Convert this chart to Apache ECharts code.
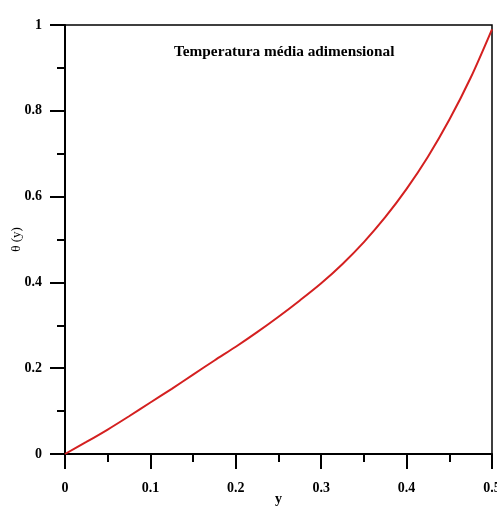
<!DOCTYPE html>
<html>
<head>
<meta charset="utf-8">
<script src="https://cdn.jsdelivr.net/npm/echarts@6/dist/echarts.min.js"></script>
<style>html,body{margin:0;padding:0;background:#fff;}#c{width:497px;height:506px;}</style>
</head>
<body>
<div id="c"></div>
<script>
const yPos = [0, 0.025, 0.05, 0.075, 0.1, 0.125, 0.15, 0.175, 0.2, 0.225, 0.25, 0.275, 0.3, 0.325, 0.35, 0.375, 0.4, 0.425, 0.45, 0.475, 0.5];
const theta = [0, 0.028, 0.057, 0.088, 0.12, 0.152, 0.185, 0.218, 0.25, 0.284, 0.32, 0.358, 0.398, 0.443, 0.494, 0.552, 0.618, 0.693, 0.779, 0.877, 0.99];
const titleText = 'Temperatura média adimensional';
const xName = 'y';
const yName = 'θ (y)';

const chart = echarts.init(document.getElementById('c'), null, {renderer: 'canvas'});
const font = 'Liberation Serif, Times New Roman, serif';
chart.setOption({
  animation: false,
  backgroundColor: '#fff',
  title: {
    text: titleText, left: 169, top: 40,
    textStyle: {fontFamily: font, fontWeight: 'bold', fontSize: 15.3, color: '#000'}
  },
  grid: {left: 65, right: 5, top: 25, bottom: 52, outerBoundsMode: 'none', containLabel: false,
         show: true, borderColor: '#000', borderWidth: 1.5, backgroundColor: 'transparent'},
  xAxis: {
    type: 'value', min: 0, max: 0.5, interval: 0.1,
    name: xName, nameLocation: 'middle', nameGap: 38, nameMoveOverlap: false,
    nameTextStyle: {fontFamily: font, fontWeight: 'bold', fontSize: 14, color: '#000'},
    axisLine: {show: true, lineStyle: {color: '#000', width: 2}},
    axisTick: {show: true, length: 15, lineStyle: {color: '#000', width: 2}},
    minorTick: {show: true, splitNumber: 2, length: 8, lineStyle: {color: '#000', width: 2}},
    axisLabel: {margin: 27, fontFamily: font, fontWeight: 'bold', fontSize: 14, color: '#000'},
    splitLine: {show: false}
  },
  yAxis: {
    type: 'value', min: 0, max: 1, interval: 0.2,
    name: yName, nameLocation: 'middle', nameGap: 42, nameMoveOverlap: false,
    nameTextStyle: {fontFamily: font, fontSize: 13, color: '#000'},
    axisLine: {show: true, lineStyle: {color: '#000', width: 2}},
    axisTick: {show: true, length: 15, lineStyle: {color: '#000', width: 2}},
    minorTick: {show: true, splitNumber: 2, length: 8, lineStyle: {color: '#000', width: 2}},
    axisLabel: {margin: 23, fontFamily: font, fontWeight: 'bold', fontSize: 14, color: '#000'},
    splitLine: {show: false}
  },
  series: [{
    type: 'line', smooth: 0.3, showSymbol: false,
    data: yPos.map((v, i) => [v, theta[i]]),
    lineStyle: {color: '#d42020', width: 2},
    clip: false
  }]
});
</script>
</body>
</html>
